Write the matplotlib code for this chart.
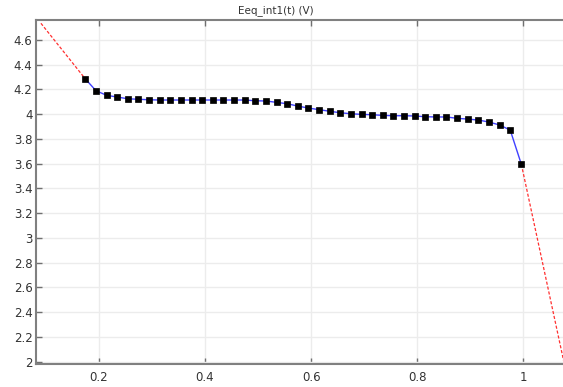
import matplotlib
matplotlib.use("Agg")
import matplotlib.pyplot as plt
import numpy as np

# ---- data ----
t_pts = [0.175, 0.195, 0.215, 0.235, 0.255, 0.275, 0.295, 0.315, 0.335, 0.355,
         0.375, 0.395, 0.415, 0.435, 0.455, 0.475, 0.495, 0.515, 0.535, 0.555,
         0.575, 0.595, 0.615, 0.635, 0.655, 0.675, 0.695, 0.715, 0.735, 0.755,
         0.775, 0.795, 0.815, 0.835, 0.855, 0.875, 0.895, 0.915, 0.935, 0.955,
         0.975, 0.996]
eeq_pts = [4.285, 4.190, 4.153, 4.139, 4.125, 4.121, 4.117, 4.115, 4.115, 4.115,
           4.115, 4.115, 4.115, 4.115, 4.115, 4.115, 4.109, 4.107, 4.096, 4.085,
           4.066, 4.050, 4.037, 4.024, 4.012, 4.004, 3.999, 3.996, 3.991, 3.988,
           3.988, 3.986, 3.980, 3.978, 3.978, 3.967, 3.961, 3.953, 3.937, 3.913,
           3.872, 3.595]
extrap_left_t = [0.0913, 0.175]
extrap_left_v = [4.735, 4.285]
extrap_right_t = [0.996, 1.10]
extrap_right_v = [3.595, 1.52]

xticks = [0.2, 0.4, 0.6, 0.8, 1.0]
xticklabels = ["0.2", "0.4", "0.6", "0.8", "1"]
yticks = [2, 2.2, 2.4, 2.6, 2.8, 3, 3.2, 3.4, 3.6, 3.8, 4, 4.2, 4.4, 4.6]
yticklabels = ["2", "2.2", "2.4", "2.6", "2.8", "3", "3.2", "3.4", "3.6", "3.8",
               "4", "4.2", "4.4", "4.6"]
title = "Eeq_int1(t) (V)"

W, H = 563, 387
fig = plt.figure(figsize=(W / 100, H / 100), dpi=100)
left_px, right_px, top_px, bot_px = 36, 575, 19.5, 364
ax = fig.add_axes([left_px / W, 1 - bot_px / H, (right_px - left_px) / W,
                   (bot_px - top_px) / H])

ax.plot(extrap_left_t, extrap_left_v, color="#ff3030", lw=0.9,
        dashes=(2.5, 1.5), zorder=2)
ax.plot(extrap_right_t, extrap_right_v, color="#ff3030", lw=0.9,
        dashes=(2.5, 1.5), zorder=2)
ax.plot(t_pts, eeq_pts, color="#4040ff", lw=1.0, zorder=3)
ax.plot(t_pts, eeq_pts, linestyle="none", marker="s", markersize=4.6,
        markeredgewidth=0.5, color="black", zorder=4)

ax.set_xlim(0.082, 0.2 + (right_px - 98.7) / 531)
ax.set_ylim(2 - (bot_px - 361.7) / 123.7, 4.6 + (40 - top_px) / 123.7)
ax.set_xticks(xticks)
ax.set_xticklabels(xticklabels)
ax.set_yticks(yticks)
ax.set_yticklabels(yticklabels)

ax.grid(True, color="#ececec", lw=1.0)
ax.set_axisbelow(True)
for s in ["left", "bottom", "top"]:
    ax.spines[s].set_color("#808080")
    ax.spines[s].set_linewidth(1.5)
ax.spines["right"].set_visible(False)
ax.tick_params(direction="in", length=4.5, width=1.0, color="#707070",
               labelsize=8.5, labelcolor="#333333", top=True)
ax.tick_params(axis="x", pad=5)
ax.tick_params(axis="y", pad=2.5)

fig.text(276 / W, 1 - 10.7 / H, title, ha="center", va="center",
         fontsize=7.5, color="#333333")

fig.savefig("out.png", dpi=100)
